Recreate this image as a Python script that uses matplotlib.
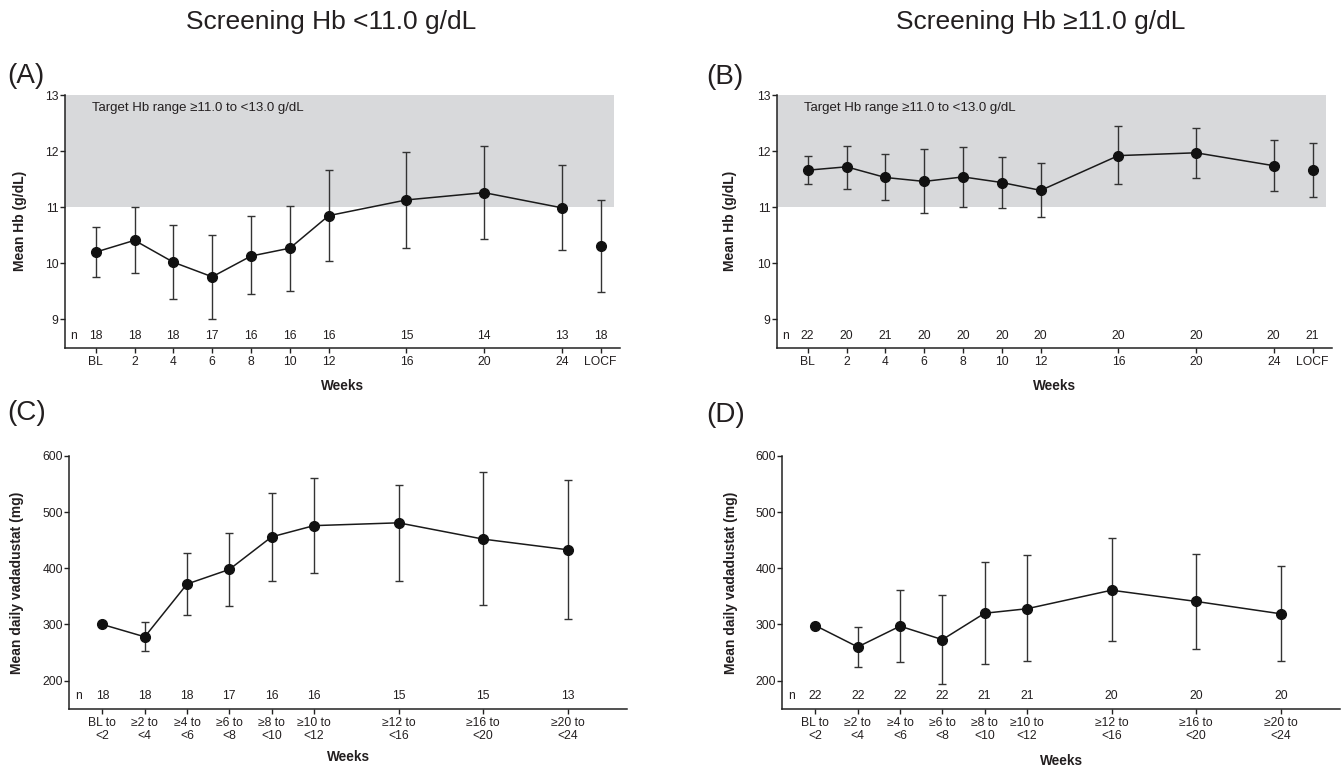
import numpy as np
import matplotlib
matplotlib.use("Agg")
import matplotlib.pyplot as plt

plt.rcParams['font.family'] = ['Liberation Sans', 'DejaVu Sans']
TXT = '#231f20'

# ---------------- data ----------------
hb_weeks = ['BL', '2', '4', '6', '8', '10', '12', '16', '20', '24', 'LOCF']
hb_week_num = [0, 2, 4, 6, 8, 10, 12, 16, 20, 24, 26]  # LOCF shown one step after week 24

# Panel A: screening Hb < 11.0 g/dL
a_mean = [10.20, 10.41, 10.02, 9.76, 10.13, 10.27, 10.85, 11.13, 11.26, 10.99, 10.31]
a_low = [9.76, 9.82, 9.37, 9.00, 9.45, 9.51, 10.04, 10.27, 10.43, 10.23, 9.49]
a_high = [10.64, 11.00, 10.68, 10.51, 10.84, 11.03, 11.66, 11.99, 12.10, 11.75, 11.12]
a_n = [18, 18, 18, 17, 16, 16, 16, 15, 14, 13, 18]

# Panel B: screening Hb >= 11.0 g/dL
b_mean = [11.66, 11.72, 11.53, 11.46, 11.54, 11.44, 11.30, 11.92, 11.97, 11.74, 11.66]
b_low = [11.41, 11.32, 11.13, 10.90, 11.01, 10.99, 10.83, 11.42, 11.52, 11.29, 11.19]
b_high = [11.92, 12.10, 11.94, 12.04, 12.08, 11.90, 11.78, 12.44, 12.42, 12.20, 12.14]
b_n = [22, 20, 21, 20, 20, 20, 20, 20, 20, 20, 21]

dose_labels = ['BL to\n<2', '≥2 to\n<4', '≥4 to\n<6', '≥6 to\n<8', '≥8 to\n<10',
               '≥10 to\n<12', '≥12 to\n<16', '≥16 to\n<20', '≥20 to\n<24']
dose_end_week = [2, 4, 6, 8, 10, 12, 16, 20, 24]

# Panel C: mean daily vadadustat, screening Hb < 11.0
c_mean = [300, 278, 372, 398, 456, 476, 481, 452, 433]
c_low = [np.nan, 252, 317, 332, 378, 392, 377, 335, 310]
c_high = [np.nan, 305, 428, 463, 534, 560, 549, 571, 557]
c_n = [18, 18, 18, 17, 16, 16, 15, 15, 13]

# Panel D: mean daily vadadustat, screening Hb >= 11.0
d_mean = [298, 260, 297, 273, 320, 328, 361, 341, 319]
d_low = [np.nan, 224, 234, 194, 229, 235, 271, 257, 235]
d_high = [np.nan, 296, 361, 352, 411, 423, 454, 426, 404]
d_n = [22, 22, 22, 22, 21, 21, 20, 20, 20]

# ---------------- figure ----------------
W, H = 1341, 769
fig = plt.figure(figsize=(W / 100, H / 100), dpi=100)


def px_axes(left, top, right, bottom):
    return fig.add_axes([left / W, 1 - bottom / H, (right - left) / W, (bottom - top) / H])


axA = px_axes(65, 95, 620, 347.5)
axB = px_axes(777, 95, 1332, 347.5)
axC = px_axes(69, 456, 627, 708.7)
axD = px_axes(782, 456, 1340, 708.7)


def style(ax):
    for s in ['top', 'right']:
        ax.spines[s].set_visible(False)
    for s in ['left', 'bottom']:
        ax.spines[s].set_linewidth(1.1)
        ax.spines[s].set_color('#222222')
    ax.tick_params(axis='both', direction='out', length=3.5, width=1.0, color='#222222',
                   labelsize=8.7, labelcolor=TXT)
    ax.tick_params(axis='y', pad=1)
    ax.tick_params(axis='x', pad=2.5)


def draw(ax, x, mean, low, high, n, connect_upto, nrow_y, labels, xlim, ylim, yticks, ylabel,
         band=False):
    style(ax)
    mean = np.asarray(mean, float)
    low = np.asarray(low, float)
    high = np.asarray(high, float)
    x = np.asarray(x, float)
    if band:
        ax.axhspan(11, 13, xmin=0, xmax=0.99, color='#d8d9db', lw=0, zorder=0)
        ax.text(-0.1, 12.76, 'Target Hb range ≥11.0 to <13.0 g/dL', fontsize=9.5,
                color=TXT, ha='left', va='center')
    ok = ~np.isnan(low)
    ax.errorbar(x[ok], mean[ok], yerr=[mean[ok] - low[ok], high[ok] - mean[ok]], fmt='none',
                ecolor='#333333', elinewidth=1.0, capsize=3.2, capthick=1.0, zorder=2)
    ax.plot(x[:connect_upto], mean[:connect_upto], color='#1a1a1a', lw=1.1, zorder=3)
    ax.plot(x, mean, 'o', color='#111111', ms=7.0, zorder=4)
    ax.text(-0.56, nrow_y, 'n', fontsize=8.7, color=TXT, ha='center', va='center')
    for xi, ni in zip(x, n):
        ax.text(xi, nrow_y, str(ni), fontsize=8.7, color=TXT, ha='center', va='center')
    ax.set_xticks(x)
    ax.set_xticklabels(labels, linespacing=1.15)
    ax.set_xlim(*xlim)
    ax.set_ylim(*ylim)
    ax.set_yticks(yticks)
    ax.set_ylabel(ylabel, fontsize=10, fontweight='bold', color=TXT)
    ax.set_xlabel('Weeks', fontsize=9.8, fontweight='bold', color=TXT)


hb_x = [w / 2 for w in hb_week_num]
dose_x = [e / 2 - 1 for e in dose_end_week]

draw(axA, hb_x, a_mean, a_low, a_high, a_n, 10, 8.70, hb_weeks, (-0.79, 13.5), (8.5, 13),
     [9, 10, 11, 12, 13], 'Mean Hb (g/dL)', band=True)
draw(axB, hb_x, b_mean, b_low, b_high, b_n, 10, 8.70, hb_weeks, (-0.79, 13.5), (8.5, 13),
     [9, 10, 11, 12, 13], 'Mean Hb (g/dL)', band=True)
draw(axC, dose_x, c_mean, c_low, c_high, c_n, 9, 172.5, dose_labels, (-0.79, 12.4), (150, 600),
     [200, 300, 400, 500, 600], 'Mean daily vadadustat (mg)')
draw(axD, dose_x, d_mean, d_low, d_high, d_n, 9, 172.5, dose_labels, (-0.79, 12.4), (150, 600),
     [200, 300, 400, 500, 600], 'Mean daily vadadustat (mg)')

# label positions (axes fraction)
axA.yaxis.set_label_coords(-0.081, 0.5)
axB.yaxis.set_label_coords(-0.084, 0.5)
axC.yaxis.set_label_coords(-0.094, 0.5)
axD.yaxis.set_label_coords(-0.092, 0.5)
for ax, yy in [(axA, -0.152), (axB, -0.152), (axC, -0.191), (axD, -0.207)]:
    ax.xaxis.set_label_coords(0.5, yy)
    ax.xaxis.label.set_verticalalignment('center')
    ax.yaxis.label.set_verticalalignment('center')

# titles and panel letters
fig.text(331 / W, 1 - 22 / H, 'Screening Hb <11.0 g/dL', fontsize=19, color=TXT,
         ha='center', va='center')
fig.text(1041 / W, 1 - 22 / H, 'Screening Hb ≥11.0 g/dL', fontsize=19, color=TXT,
         ha='center', va='center')
for lab, xp, yp in [('(A)', 7, 76), ('(B)', 706, 77), ('(C)', 7, 413), ('(D)', 706, 415)]:
    fig.text(xp / W, 1 - yp / H, lab, fontsize=20, color=TXT, ha='left', va='center')

fig.savefig('out.png', dpi=100)
